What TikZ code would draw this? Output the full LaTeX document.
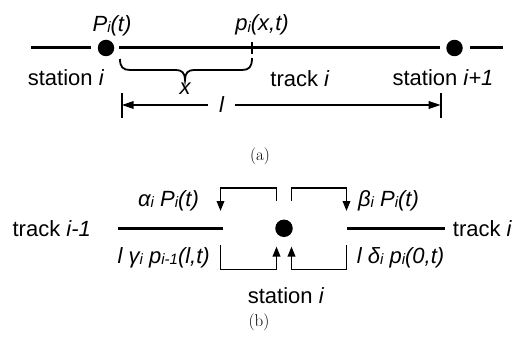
\documentclass[tikz,border=0pt]{standalone}
\usepackage{fontspec}
\newfontfamily\lab{Liberation Sans}
\usetikzlibrary{arrows.meta}
\newcommand\sbs[1]{\raisebox{-1.5pt}{\fontsize{15}{15}\selectfont #1}}
\begin{document}
\begin{tikzpicture}[x=1pt,y=-1pt,
  lbl/.style={inner sep=0pt, anchor=base, font=\lab\fontsize{22}{26}\selectfont},
  captext/.style={inner sep=0pt, anchor=base, font=\fontsize{17}{20}\selectfont},
  dot/.style={circle, fill=black, inner sep=0pt, minimum size=16.5pt},
  trackline/.style={line width=3pt},
  thinline/.style={line width=1.8pt},
  dimarrow/.style={thinline, -{Triangle[length=12pt,width=7.5pt]}},
  flowarrow/.style={thinline, -{Triangle[length=10pt,width=7.5pt]}}]
\useasboundingbox (0,0) rectangle (522,337);
% ---------- (a) ----------
\node[dot] (s1) at (106,48) {};
\node[dot] (s2) at (454.5,48) {};
\coordinate (a0) at (31,48);
\coordinate (a1) at (503,48);
\draw[trackline] (a0) -- ([xshift=-7pt]s1.west);
\draw[trackline] ([xshift=5pt]s1.east) -- ([xshift=-6pt]s2.west);
\draw[trackline] ([xshift=7pt]s2.east) -- (a1);
\coordinate (ptop) at (252,42);
\coordinate (pbot) at (252,54);
\draw[thinline] (ptop) -- (pbot);
\coordinate (br0) at (120,59);
\coordinate (br1) at (252,58);
\draw[thinline] (br0) .. controls (120,67) and (123,70) .. (130,70) -- (176,70)
  .. controls (182,70) and (185,73) .. (185,80)
  .. controls (185,73) and (188,70) .. (194,70) -- (242,70)
  .. controls (249,70) and (252,67) .. (br1);
\node[lbl] (Pt) at (112,31.5) {\itshape P\sbs{i}(t)};
\node[lbl] (pxt) at (262,31) {\itshape p\sbs{i}(x,t)};
\node[lbl] (st1) at (66,85.5) {station \textit{i}};
\node[lbl] (tr) at (300,86.5) {track \textit{i}};
\node[lbl] (st2) at (443,85.5) {station \textit{i+1}};
\node[lbl] (xl) at (185,95) {\itshape x};
\node[inner sep=0pt, font=\lab\fontsize{22}{26}\selectfont, minimum width=27pt] (ll) at (221.5,105) {\itshape l};
\coordinate (dl1) at (121.7,93);
\coordinate (dl2) at (121.7,118);
\coordinate (dr1) at (440.7,93);
\coordinate (dr2) at (440.7,118);
\coordinate (dL) at (121.7,105);
\coordinate (dR) at (440.7,105);
\draw[thinline] (dl1) -- (dl2);
\draw[thinline] (dr1) -- (dr2);
\draw[dimarrow] (ll.west) -- (dL);
\draw[dimarrow] (ll.east) -- (dR);
\node[captext] (capa) at (260,160.5) {(a)};
% ---------- (b) ----------
\node[dot, minimum size=17.5pt] (sb) at (284,228.3) {};
\coordinate (tl0) at (118.3,228.3);
\coordinate (tl1) at (222.7,228.3);
\coordinate (tr0) at (347,228.3);
\coordinate (tr1) at (445,228.3);
\draw[trackline] (tl0) -- (tl1);
\draw[trackline] (tr0) -- (tr1);
% brackets
\coordinate (A0) at (276.5,201);
\coordinate (A1) at (220.5,211);
\draw[flowarrow] (A0) -- (276.5,188) -- (220.5,188) -- (A1);
\coordinate (B0) at (291.5,201);
\coordinate (B1) at (346.5,211);
\draw[flowarrow] (B0) -- (291.5,188) -- (346.5,188) -- (B1);
\coordinate (C0) at (220.5,245);
\coordinate (C1) at (276.5,246.5);
\draw[flowarrow] (C0) -- (220.5,269.5) -- (276.5,269.5) -- (C1);
\coordinate (D0) at (346.5,245);
\coordinate (D1) at (291.5,246.5);
\draw[flowarrow] (D0) -- (346.5,269.5) -- (291.5,269.5) -- (D1);
\node[lbl] (trm1) at (51.7,236.7) {track \textit{i-1}};
\node[lbl] (tri) at (482.5,236.7) {track \textit{i}};
\node[lbl] (al) at (168.5,206) {\itshape α\sbs{i} P\sbs{i}(t)};
\node[lbl] (be) at (388.5,206) {\itshape β\sbs{i} P\sbs{i}(t)};
\node[lbl, anchor=base east] (ga) at (210,263) {\itshape l γ\sbs{i} p\sbs{i-1}(l,t)};
\node[lbl, anchor=base west] (de) at (356.7,263) {\itshape l δ\sbs{i} p\sbs{i}(0,t)};
\node[lbl] (stb) at (286,303.5) {station \textit{i}};
\node[captext] (capb) at (259,326) {(b)};
\end{tikzpicture}
\end{document}
